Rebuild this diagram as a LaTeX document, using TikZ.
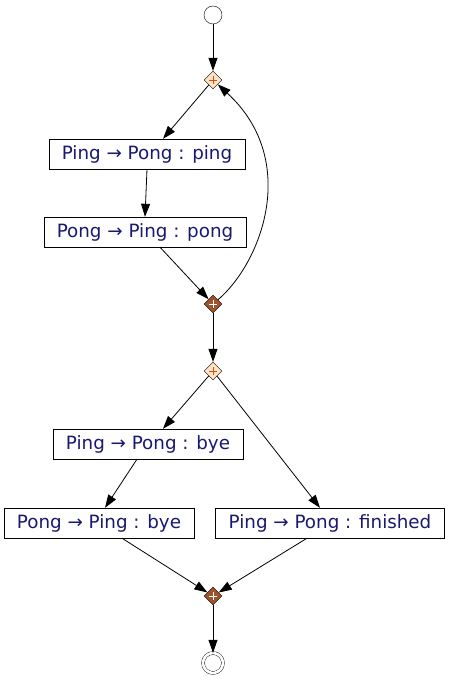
\documentclass[tikz,border=0pt]{standalone}
\usepackage{fontspec}
\setmainfont{DejaVu Sans}
\usetikzlibrary{shapes.geometric,arrows.meta}
\definecolor{msgtext}{RGB}{25,25,112}
\definecolor{forkfill}{RGB}{255,228,196}
\definecolor{forkplus}{RGB}{205,80,30}
\definecolor{joinfill}{RGB}{160,82,45}
\tikzset{
  msg/.style={draw, fill=white, text=msgtext, minimum height=30pt, inner xsep=13pt,
    font=\fontsize{18.3}{21}\selectfont},
  forkgate/.style={diamond, draw, fill=forkfill, minimum size=18pt, inner sep=0pt,
    path picture={\draw[forkplus, line width=0.8pt]
      (path picture bounding box.center) +(-4,0) -- +(4,0)
      (path picture bounding box.center) +(0,-4) -- +(0,4);}},
  joingate/.style={diamond, draw, fill=joinfill, minimum size=18pt, inner sep=0pt,
    path picture={\draw[white, line width=0.8pt]
      (path picture bounding box.center) +(-4,0) -- +(4,0)
      (path picture bounding box.center) +(0,-4) -- +(0,4);}},
  flow/.style={-{Triangle[length=13pt,width=9pt]}, line width=0.8pt}
}
\begin{document}
\begin{tikzpicture}[x=1pt,y=-1pt]
\useasboundingbox (0,0) rectangle (451,684);
% start and end
\node (start) [circle, draw, minimum size=18pt, inner sep=0pt] at (213,15) {};
\node (stop) [circle, draw, double, double distance=2.6pt, minimum size=20pt, inner sep=0pt] at (213,663) {};
% gateways
\node (loopfork) [forkgate] at (213,80) {};
\node (loopjoin) [joingate] at (213,304) {};
\node (endfork) [forkgate] at (213,371) {};
\node (endjoin) [joingate] at (213,596) {};
% messages
\node (ping) [msg] at (147,154) {Ping → Pong : ping};
\node (pong) [msg] at (145,232) {Pong → Ping : pong};
\node (byeA) [msg] at (148,444) {Ping → Pong : bye};
\node (byeB) [msg] at (99,523) {Pong → Ping : bye};
\node (done) [msg] at (330,523) {Ping → Pong : finished};
% flows
\draw [flow] (start) -- (loopfork);
\draw [flow] (loopfork) -- (ping.north -| 163,0);
\draw [flow] (ping.south -| 147,0) -- (pong.north -| 145,0);
\draw [flow] (pong.south -| 160,0) -- (loopjoin);
\draw [flow] (loopjoin) .. controls (262,262) and (300,160) .. (loopfork);
\draw [flow] (loopjoin) -- (endfork);
\draw [flow] (endfork) -- (byeA.north -| 163,0);
\draw [flow] (endfork) -- (done.north -| 320,0);
\draw [flow] (byeA.south -| 137,0) -- (byeB.north -| 105,0);
\draw [flow] (byeB.south -| 122,0) -- (endjoin);
\draw [flow] (done.south -| 307,0) -- (endjoin);
\draw [flow] (endjoin) -- (stop);
\end{tikzpicture}
\end{document}
